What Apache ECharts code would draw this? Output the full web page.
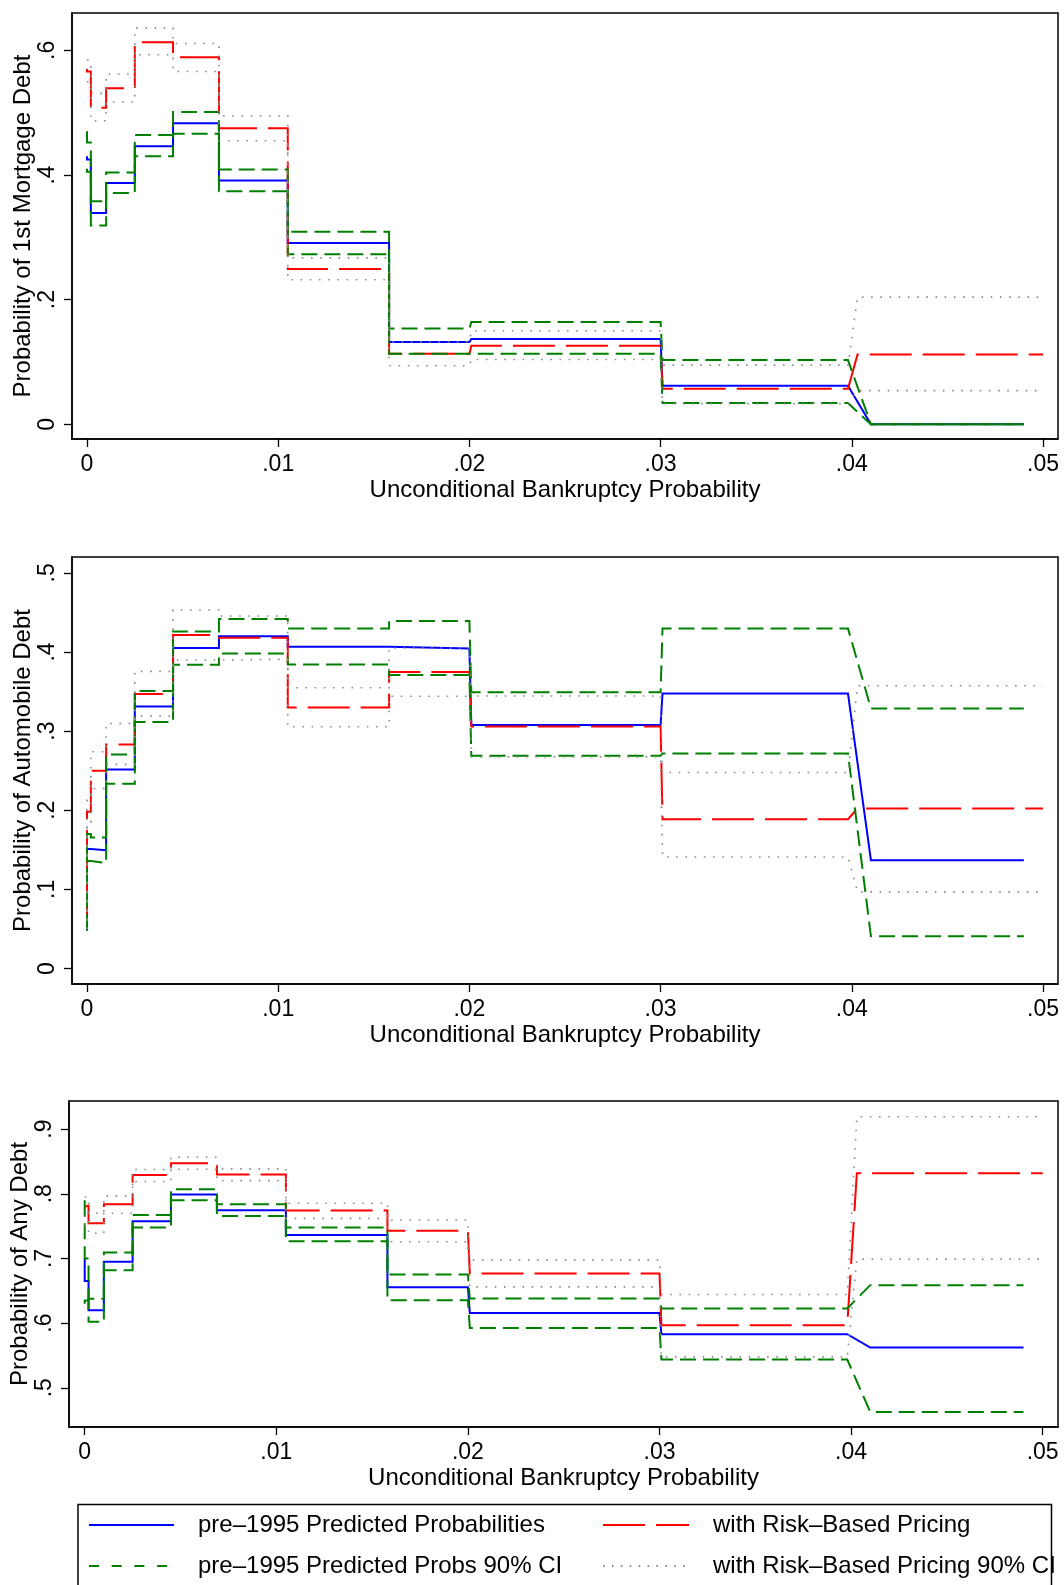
<!DOCTYPE html>
<html>
<head>
<meta charset="utf-8">
<script src="https://cdn.jsdelivr.net/npm/echarts@6/dist/echarts.min.js"></script>
<style>
    html, body {margin: 0; padding: 0; background: #fff;}
    #chart {width: 1064px; height: 1585px;}
</style>
</head>
<body>
<div id="chart"></div>
<script>
// step edges on the bankruptcy-probability axis (first entry = value at x=0)
const preStart = [0, 0, 0.0002, 0.0010, 0.0025, 0.0045, 0.0069, 0.0105, 0.0158, 0.0201, 0.0301, 0.0410];
const preEnd   = [0, 0.0002, 0.0010, 0.0025, 0.0045, 0.0069, 0.0105, 0.0158, 0.0200, 0.0300, 0.0398, 0.0490];
const rbpStart = [0, 0, 0.0002, 0.0010, 0.0025, 0.0045, 0.0069, 0.0105, 0.0158, 0.0201, 0.0301, 0.0403];
const rbpEnd   = [0, 0.0002, 0.0010, 0.0025, 0.0045, 0.0069, 0.0105, 0.0158, 0.0200, 0.0300, 0.0398, 0.0500];

// 1st mortgage debt
const mortPre   = [0.43, 0.425, 0.339, 0.387, 0.446, 0.483, 0.391, 0.291, 0.132, 0.137, 0.062, 0.000];
const mortPreHi = [0.47, 0.452, 0.358, 0.404, 0.464, 0.501, 0.409, 0.309, 0.1535, 0.164, 0.103, 0.000];
const mortPreLo = [0.41, 0.405, 0.319, 0.371, 0.430, 0.466, 0.374, 0.273, 0.113, 0.113, 0.034, 0.000];
const mortRbp   = [0.57, 0.566, 0.508, 0.539, 0.613, 0.589, 0.475, 0.249, 0.113, 0.126, 0.057, 0.112];
const mortRbpHi = [0.585, 0.583, 0.531, 0.562, 0.636, 0.611, 0.495, 0.267, 0.132, 0.150, 0.095, 0.204];
const mortRbpLo = [0.55, 0.548, 0.487, 0.517, 0.593, 0.566, 0.455, 0.232, 0.094, 0.104, 0.033, 0.054];

// automobile debt
const autoPre   = [0.048, 0.151, 0.1495, 0.2516, 0.331, 0.405, 0.420, 0.4066, 0.4045, 0.3076, 0.3476, 0.137];
const autoPreHi = [0.048, 0.170, 0.1656, 0.2705, 0.3506, 0.426, 0.4416, 0.4298, 0.439, 0.349, 0.4298, 0.3287];
const autoPreLo = [0.048, 0.136, 0.1335, 0.2334, 0.3114, 0.384, 0.398, 0.3843, 0.3708, 0.2688, 0.2718, 0.0408];
const autoRbp   = [0.055, 0.198, 0.2498, 0.283, 0.347, 0.4214, 0.418, 0.330, 0.3746, 0.306, 0.1887, 0.2023];
const autoRbpHi = [0.06, 0.213, 0.274, 0.3097, 0.3755, 0.453, 0.4454, 0.3548, 0.405, 0.3443, 0.2478, 0.3573];
const autoRbpLo = [0.05, 0.185, 0.2275, 0.258, 0.319, 0.3898, 0.391, 0.3055, 0.344, 0.2675, 0.141, 0.0969];

// any debt
const anyPre   = [0.70, 0.665, 0.6198, 0.695, 0.7576, 0.7988, 0.7746, 0.7364, 0.6554, 0.6158, 0.5828, 0.5622];
const anyPreHi = [0.79, 0.70, 0.6378, 0.709, 0.767, 0.807, 0.7838, 0.7477, 0.675, 0.638, 0.6226, 0.6587];
const anyPreLo = [0.63, 0.635, 0.602, 0.6817, 0.7477, 0.790, 0.7658, 0.7266, 0.6355, 0.5926, 0.5436, 0.4626];
const anyRbp   = [0.78, 0.7817, 0.7545, 0.784, 0.829, 0.8473, 0.8297, 0.774, 0.7427, 0.6768, 0.5967, 0.8316];
const anyRbpHi = [0.795, 0.795, 0.770, 0.7967, 0.8375, 0.8566, 0.8386, 0.7854, 0.759, 0.6974, 0.6443, 0.9192];
const anyRbpLo = [0.75, 0.765, 0.739, 0.770, 0.819, 0.838, 0.8204, 0.762, 0.7257, 0.656, 0.5477, 0.699];

const xTicks = [0, 0.01, 0.02, 0.03, 0.04, 0.05];
const mortTicks = [0, 0.2, 0.4, 0.6];
const autoTicks = [0, 0.1, 0.2, 0.3, 0.4, 0.5];
const anyTicks = [0.5, 0.6, 0.7, 0.8, 0.9];

const namePre = 'pre\u20131995 Predicted Probabilities';
const namePreCI = 'pre\u20131995 Predicted Probs 90% CI';
const nameRbp = 'with Risk\u2013Based Pricing';
const nameRbpCI = 'with Risk\u2013Based Pricing 90% CI';

const FONT = '"Liberation Sans", Arial, Helvetica, sans-serif';

const styles = {
    pre: {color: '#0000ff', width: 2, type: 'solid'},
    preCI: {color: '#008000', width: 2, type: [16, 7]},
    rbp: {color: '#ff0000', width: 2, type: [42, 11]},
    rbpCI: {color: '#8c8c8c', width: 1.6, type: [1.6, 7.6]}
};

const panels = [
    {top: 13, left: 72, width: 986, height: 426, xMin: -0.000785, xMax: 0.050785, yMin: -0.0236, yMax: 0.6599,
        yTicks: mortTicks, title: 'Probability of 1st Mortgage Debt',
        pre: mortPre, preHi: mortPreHi, preLo: mortPreLo, rbp: mortRbp, rbpHi: mortRbpHi, rbpLo: mortRbpLo},
    {top: 557, left: 72, width: 986, height: 427, xMin: -0.000785, xMax: 0.050785, yMin: -0.0195, yMax: 0.52,
        yTicks: autoTicks, title: 'Probability of Automobile Debt',
        pre: autoPre, preHi: autoPreHi, preLo: autoPreLo, rbp: autoRbp, rbpHi: autoRbpHi, rbpLo: autoRbpLo},
    {top: 1101, left: 69, width: 989, height: 326, xMin: -0.00082, xMax: 0.0508, yMin: 0.4393, yMax: 0.9435,
        yTicks: anyTicks, title: 'Probability of Any Debt',
        pre: anyPre, preHi: anyPreHi, preLo: anyPreLo, rbp: anyRbp, rbpHi: anyRbpHi, rbpLo: anyRbpLo}
];

function steps (starts, ends, vals){
    let pts = [];
    vals.forEach((v, i) => {
        pts.push([starts[i], v]);
        pts.push([ends[i], v]);
    });
    return pts;
}

function tickText (v){
    if (v === 0) return '0';
    return String(Math.round(v * 100) / 100).replace(/^0\./, '.');
}

function makeLine (name, idx, style, data){
    return {
        name,
        type: 'line',
        xAxisIndex: idx,
        yAxisIndex: idx,
        data,
        symbol: 'none',
        showSymbol: false,
        silent: true,
        animation: false,
        clip: true,
        itemStyle: {color: style.color},
        lineStyle: {color: style.color, width: style.width, type: style.type, cap: 'butt', join: 'miter'}
    };
}

let grid = [], xAxis = [], yAxis = [], series = [];

panels.forEach((p, i) => {
    grid.push({left: p.left, top: p.top, width: p.width, height: p.height, show: true,
        borderColor: '#000', borderWidth: 1.5, backgroundColor: '#fff',
        containLabel: false, outerBoundsMode: 'none'});
    xAxis.push({
        type: 'value', gridIndex: i, min: p.xMin, max: p.xMax,
        name: 'Unconditional Bankruptcy Probability', nameLocation: 'middle', nameGap: 39,
        nameMoveOverlap: false,
        nameTextStyle: {fontSize: 24, fontFamily: FONT, color: '#000'},
        axisLine: {show: true, onZero: false, lineStyle: {color: '#000', width: 1.5}},
        axisTick: {show: true, inside: false, length: 8, customValues: xTicks, lineStyle: {color: '#000', width: 1.3}},
        axisLabel: {show: true, margin: 14, fontSize: 23, fontFamily: FONT, color: '#000',
            customValues: xTicks, formatter: tickText},
        splitLine: {show: false}
    });
    yAxis.push({
        type: 'value', gridIndex: i, min: p.yMin, max: p.yMax,
        name: p.title, nameLocation: 'middle', nameGap: 37, nameRotate: 90,
        nameMoveOverlap: false,
        nameTextStyle: {fontSize: 24, fontFamily: FONT, color: '#000'},
        axisLine: {show: true, onZero: false, lineStyle: {color: '#000', width: 1.5}},
        axisTick: {show: true, inside: false, length: 8, customValues: p.yTicks, lineStyle: {color: '#000', width: 1.3}},
        axisLabel: {show: true, margin: 13, rotate: 90, fontSize: 23, fontFamily: FONT, color: '#000',
            customValues: p.yTicks, formatter: tickText},
        splitLine: {show: false}
    });
    series.push(makeLine(namePre, i, styles.pre, steps(preStart, preEnd, p.pre)));
    series.push(makeLine(nameRbp, i, styles.rbp, steps(rbpStart, rbpEnd, p.rbp)));
    series.push(makeLine(namePreCI, i, styles.preCI, steps(preStart, preEnd, p.preHi)));
    series.push(makeLine(namePreCI, i, styles.preCI, steps(preStart, preEnd, p.preLo)));
    series.push(makeLine(nameRbpCI, i, styles.rbpCI, steps(rbpStart, rbpEnd, p.rbpHi)));
    series.push(makeLine(nameRbpCI, i, styles.rbpCI, steps(rbpStart, rbpEnd, p.rbpLo)));
});

const legendText = {fontSize: 24, fontFamily: FONT, color: '#000', padding: [0, 0, 0, 19], lineHeight: 24};
const legendBase = {top: 1513, height: 120, padding: 0, orient: 'vertical', itemHeight: 14, itemGap: 17,
    selectedMode: false, textStyle: legendText, itemStyle: {opacity: 0, borderWidth: 0}};

let chart = echarts.init(document.getElementById('chart'), null, {renderer: 'canvas'});
chart.setOption({
    backgroundColor: '#fff',
    animation: false,
    grid, xAxis, yAxis, series,
    legend: [
        Object.assign({}, legendBase, {left: 88, itemWidth: 85,
            data: [
                {name: namePre},
                {name: namePreCI, lineStyle: {type: [10, 12.7]}}
            ]}),
        Object.assign({}, legendBase, {left: 602, itemWidth: 86,
            data: [
                {name: nameRbp},
                {name: nameRbpCI, lineStyle: {type: [1.6, 7.3]}}
            ]})
    ],
    graphic: [{
        type: 'rect', silent: true, z: 100,
        shape: {x: 78, y: 1504.5, width: 973.5, height: 120},
        style: {fill: 'none', stroke: '#000', lineWidth: 1.5}
    }]
});
</script>
</body>
</html>
